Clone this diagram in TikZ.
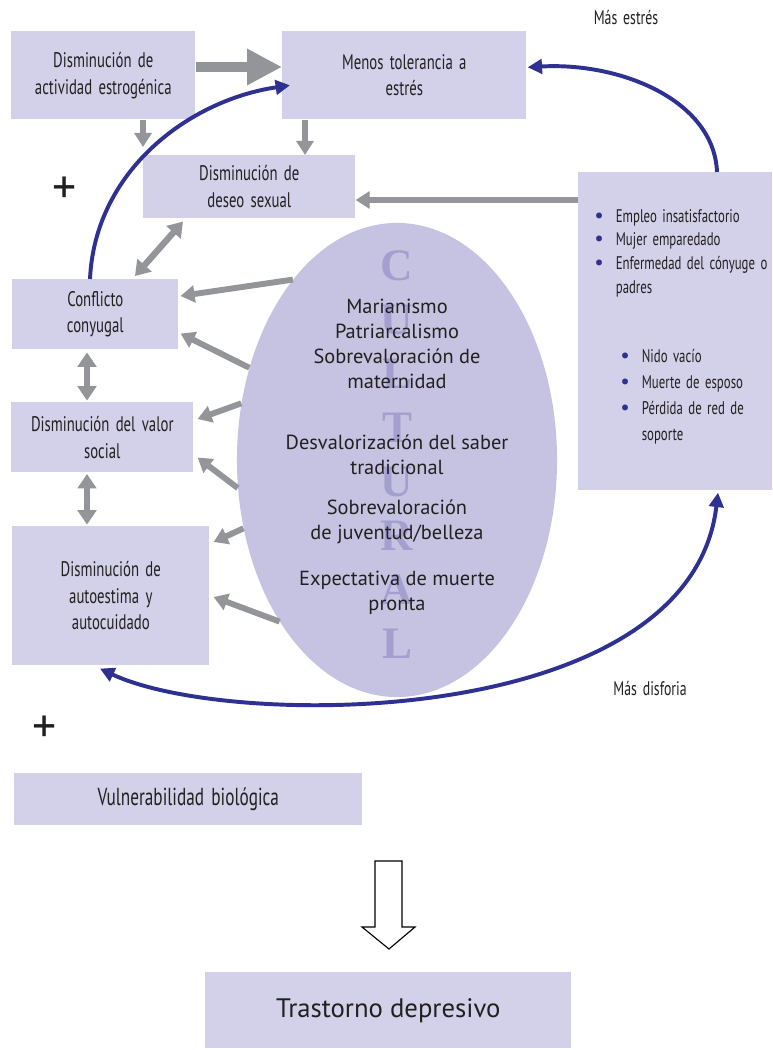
\documentclass[tikz,border=0pt]{standalone}
\usepackage{fontspec}
\setmainfont{PT Sans}
\newfontfamily\gill[FakeStretch=0.7,WordSpace=1.6]{PT Sans}
\newfontfamily\romfont{Liberation Serif}
\usetikzlibrary{arrows.meta,shapes.geometric,calc}

\definecolor{boxfill}{HTML}{D3D1E9}
\definecolor{ovalfill}{HTML}{C6C3E2}
\definecolor{linkgray}{HTML}{939598}
\definecolor{loopblue}{HTML}{2E3192}
\definecolor{letterfill}{HTML}{A39FCF}
\definecolor{inktext}{HTML}{231F20}

\newcommand\bul{\textcolor{loopblue}{\rmfamily\fontsize{15}{15}\selectfont\textbullet}}

\tikzset{
  factor/.style={
    fill=boxfill, draw=none, text=inktext,
    align=center, inner sep=0pt, anchor=north west,
    font=\gill\fontsize{15}{19}\selectfont
  },
  ovaltext/.style={
    text=inktext, align=center, inner sep=0pt,
    font=\fontsize{14.5}{17.7}\selectfont
  },
  cultletter/.style={
    text=letterfill, inner sep=0pt,
    font=\romfont\bfseries\fontsize{32}{32}\selectfont
  },
  notelabel/.style={
    text=inktext, inner sep=0pt,
    font=\gill\fontsize{14}{16}\selectfont
  },
  plusmark/.style={
    text=inktext, inner sep=0pt,
    font=\fontsize{34}{34}\selectfont
  },
  grayarrow/.style={
    draw=linkgray, line width=4.2pt,
    -{Triangle[length=3.5mm,width=4.2mm]}
  },
  graytwoway/.style={
    draw=linkgray, line width=4.5pt,
    {Triangle[length=3.6mm,width=4.6mm]}-{Triangle[length=3.6mm,width=4.6mm]}
  },
  bigarrow/.style={
    draw=linkgray, line width=7.8pt,
    -{Triangle[length=8.7mm,width=8.5mm]}
  },
  bluearc/.style={
    draw=loopblue, line width=2.8pt,
    -{Triangle[length=3.6mm,width=3.6mm]}
  },
}

\begin{document}
\begin{tikzpicture}[x=0.025cm, y=-0.025cm]

\fill[white] (0,0) rectangle (772,1050);
\useasboundingbox (0,0) rectangle (772,1050);

%% Cultural oval
\node[ellipse, fill=ovalfill, inner sep=0pt,
      minimum width=8.0cm, minimum height=11.85cm] (cult) at (397,460) {};

\foreach \ch [count=\i from 0] in {C,U,L,T,U,R,A,L}
  \node[cultletter] (let\i) at (397,{266+54*\i}) {\ch};

\node[ovaltext] (valsA) at (397,344)
  {Marianismo\\Patriarcalismo\\Sobrevaloración de\\maternidad};
\node[ovaltext] (valsB) at (397,455)
  {Desvalorización del saber\\tradicional};
\node[ovaltext] (valsC) at (397,522)
  {Sobrevaloración\\de juventud/belleza};
\node[ovaltext] (valsD) at (397,593)
  {Expectativa de muerte\\pronta};

%% Factor boxes
\node[factor, minimum width=4.60cm, minimum height=2.20cm] (estro) at (11,31)
  {Disminución de\\actividad estrogénica};
\node[factor, minimum width=6.10cm, minimum height=2.20cm] (menos) at (282,31)
  {Menos tolerancia a\\estrés};
\node[factor, minimum width=5.30cm, minimum height=1.575cm] (deseo) at (143,155)
  {Disminución de\\deseo sexual};
\node[factor, minimum width=4.15cm, minimum height=1.75cm] (conf) at (12,279)
  {Conflicto\\conyugal};
\node[factor, minimum width=4.55cm, minimum height=1.75cm] (valor) at (11,402)
  {Disminución del valor\\social};
\node[factor, minimum width=4.925cm, minimum height=3.475cm] (auto) at (12,526)
  {Disminución de\\autoestima y\\autocuidado};

%% Life events box
\node[factor, minimum width=4.85cm, minimum height=7.95cm] (events) at (578,172) {};
\node[anchor=north west, inner sep=0pt, text=inktext,
      font=\gill\fontsize{13}{17}\selectfont] (listA) at (594,205)
  {\begin{tabular}{@{}l@{\hspace{0.3cm}}l@{}}
   \bul & Empleo insatisfactorio\\
   \bul & Mujer emparedado\\
   \bul & Enfermedad del cónyuge o\\
        & padres
   \end{tabular}};
\node[anchor=north west, inner sep=0pt, text=inktext,
      font=\gill\fontsize{13}{18.4}\selectfont] (listB) at (620,344)
  {\begin{tabular}{@{}l@{\hspace{0.3cm}}l@{}}
   \bul & Nido vacío\\
   \bul & Muerte de esposo\\
   \bul & Pérdida de red de\\
        & soporte
   \end{tabular}};

%% Gray links
\coordinate (ty) at (0,67);
\coordinate (mx) at (305,0);
\coordinate (hy) at (0,200);
\coordinate (spine) at (87,0);

\draw[bigarrow] (estro.east |- ty) -- (menos.west |- ty);
\draw[grayarrow, line width=4.8pt, shorten >=0.2cm] (estro.south -| deseo.west) -- (deseo.north west);
\draw[grayarrow] (menos.south -| mx) -- (deseo.north -| mx);
\draw[grayarrow, line width=3.6pt] (events.west |- hy) -- (deseo.east |- hy);
\draw[graytwoway] ($(deseo.south west)+(40,3)$) -- ($(conf.north west)+(123,-3)$);
\draw[graytwoway, shorten <=2pt, shorten >=1pt] (conf.south -| spine) -- (valor.north -| spine);
\draw[graytwoway, shorten <=1pt, shorten >=1pt] (valor.south -| spine) -- (auto.north -| spine);

%% Oval to boxes
\draw[grayarrow] (cult.120) -- ($(conf.north east)+(2,17)$);
\draw[grayarrow] (cult.148) -- ($(conf.south east)+(2,-16)$);
\draw[grayarrow] (cult.160) -- ($(valor.north east)+(4,17)$);
\draw[grayarrow] (cult.190) -- ($(valor.south east)+(4,-15)$);
\draw[grayarrow] (cult.204) -- ($(auto.north east)+(4,16)$);
\draw[grayarrow] (cult.234) -- ($(auto.north east)+(4,71)$);

%% Blue loops
\draw[bluearc] ($(conf.north west)+(78,0)$)
  .. controls (95,170) and (190,100) .. ($(menos.west)+(8,10)$);
\draw[bluearc] ($(events.north west)+(139,0)$)
  .. controls (714,100) and (620,62) .. ($(menos.east)+(1,-8)$);
\draw[bluearc, {Triangle[length=3.6mm,width=3.6mm]}-{Triangle[length=3.6mm,width=3.6mm]}]
  ($(auto.south west)+(88,3)$)
  .. controls (230,730) and (690,730) .. ($(events.south west)+(140,2)$);

\node[notelabel] (stresslabel) at (626,18) {Más estrés};
\node[notelabel] (dysphlabel) at (650,689) {Más disforia};
\node[plusmark] (plusA) at (65,190) {+};
\node[plusmark] (plusB) at (45,729) {+};

%% Outcome
\node[factor, minimum width=8.70cm, minimum height=1.30cm,
      font=\gill\fontsize{17.5}{20}\selectfont] (vuln) at (14,773)
  {Vulnerabilidad biológica};
\draw[black, line width=0.8pt, fill=white]
  (375,861) -- (402,861) -- (402,927) -- (415,927) -- (389,949)
  -- (362,927) -- (375,927) -- cycle;
\node[factor, minimum width=9.15cm, minimum height=1.90cm,
      font=\fontsize{19}{22}\selectfont] (trast) at (205,972)
  {Trastorno depresivo};

\end{tikzpicture}
\end{document}
